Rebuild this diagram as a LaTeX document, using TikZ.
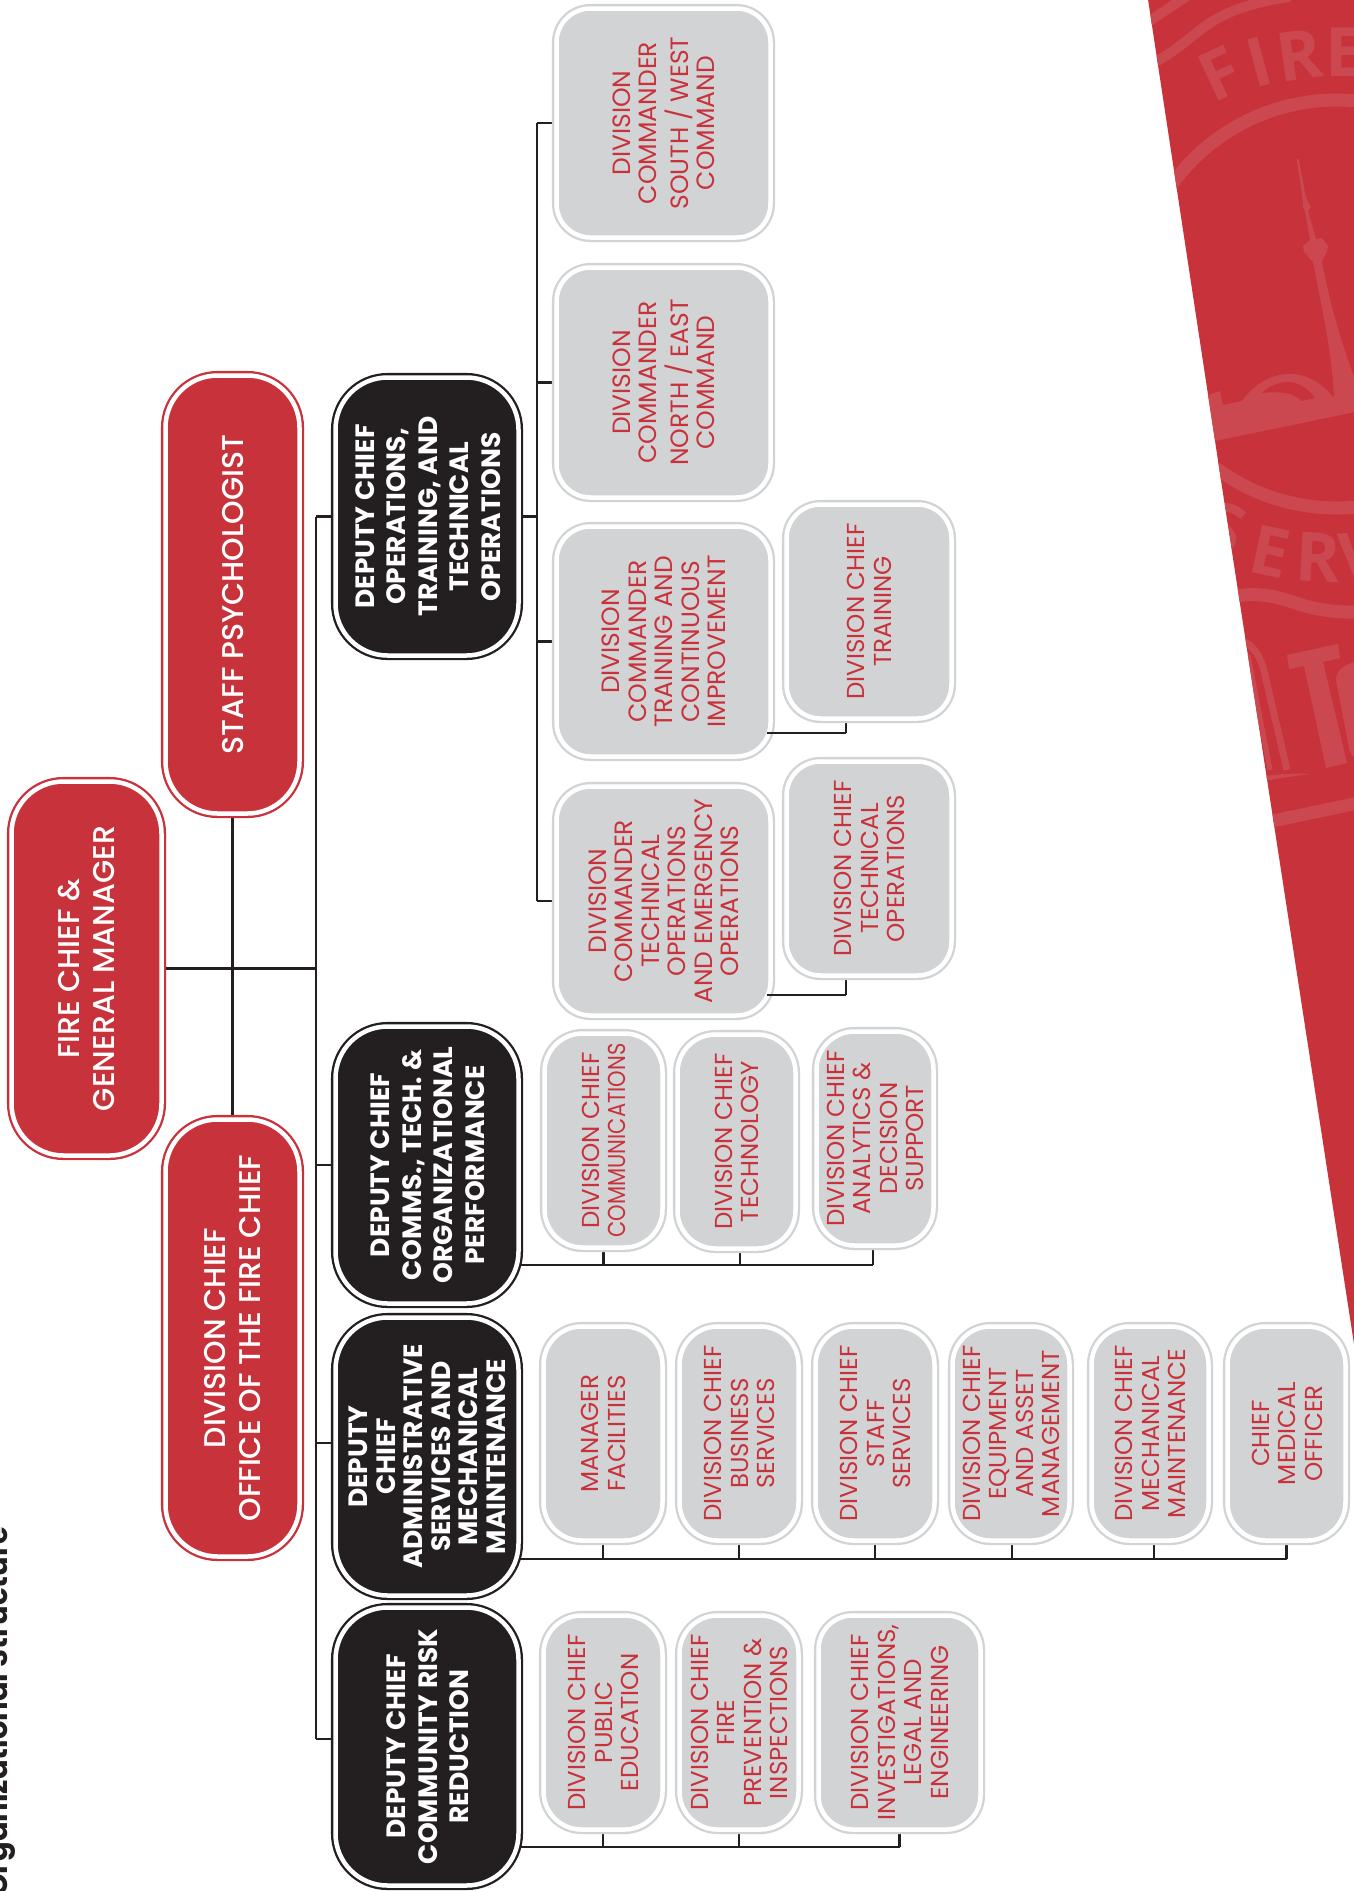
\documentclass[tikz,border=0pt]{standalone}
\usepackage{fontspec}
\setmainfont{Poppins}
\newfontfamily\wmfont{Open Sans}
\newfontfamily\pmed{Poppins Medium}
\definecolor{fdred}{HTML}{C8323B}
\definecolor{wmred}{HTML}{CC4850}
\definecolor{fdgray}{HTML}{D1D3D4}
\definecolor{fdink}{HTML}{231F20}
\pgfdeclarelayer{bg}\pgfsetlayers{bg,main}
\newcommand{\rt}[1]{\rotatebox{90}{\raisebox{0pt}[\dimexpr\height+7.5pt\relax]{\begin{tabular}{@{}c@{}}#1\end{tabular}}}}
% \bx{style}{name}{x0}{y0}{x1}{y1}{text}: outer edges of the ring
\newcommand{\bx}[7]{\node[#1,minimum width={#5-#3-9},minimum height={#6-#4-9}] (#2) at ({(#3+#5)/2},{(#4+#6)/2}) {\rt{#7}};}
\tikzset{
  x=1pt,y=-1pt,
  ringed/.style={rectangle,inner sep=0pt,outer sep=0pt,double=white,double distance=4.5pt,line width=2.3pt},
  redbox/.style={ringed,draw=fdred,fill=fdred,text=white,rounded corners=52pt,font=\fontsize{30}{35}\selectfont\pmed},
  blackbox/.style={ringed,draw=fdink,fill=fdink,text=white,rounded corners=52pt,font=\fontsize{26.5}{31.5}\selectfont\bfseries},
  tightblack/.style={blackbox,font=\fontsize{26.5}{27.5}\selectfont\bfseries},
  cmdbox/.style={ringed,draw=fdgray,fill=fdgray,text=fdred,rounded corners=34pt,font=\fontsize{25}{26.5}\selectfont},
  dcbox/.style={ringed,draw=fdgray,fill=fdgray,text=fdred,rounded corners=38pt,font=\fontsize{24.5}{26.5}\selectfont},
  dcwide/.style={dcbox,rounded corners=34pt},
  conn/.style={draw=fdink,line width=2.5pt,line cap=butt,line join=miter},
  wmline/.style={draw=wmred,line width=13pt},
  wmletter/.style={text=wmred,inner sep=0pt,font=\fontsize{68}{68}\selectfont\wmfont\bfseries},
  titletext/.style={text=fdink,inner sep=0pt,rotate=90,anchor=base west,font=\fontsize{29}{29}\selectfont\bfseries}
}
\begin{document}
\begin{tikzpicture}
\useasboundingbox (0,0) rectangle (1354,1891);
% title
\node[titletext] (title) at (7,1897) {Organizational Structure};
% top row
\bx{redbox}{fire}{7}{777}{166}{1160}{FIRE CHIEF \&\\GENERAL MANAGER}
\bx{redbox}{staff}{161}{371}{304}{818}{STAFF PSYCHOLOGIST}
\bx{redbox}{office}{161}{1115}{304}{1561}{DIVISION CHIEF\\OFFICE OF THE FIRE CHIEF}
% deputies
\bx{blackbox}{ops}{331}{373}{523}{660}{DEPUTY CHIEF\\OPERATIONS,\\TRAINING, AND\\TECHNICAL\\OPERATIONS}
\bx{blackbox}{comms}{331}{1022}{523}{1308}{DEPUTY CHIEF\\COMMS., TECH. \&\\ORGANIZATIONAL\\PERFORMANCE}
\bx{tightblack}{admin}{331}{1313}{523}{1600}{DEPUTY\\CHIEF\\ADMINISTRATIVE\\SERVICES AND\\MECHANICAL\\MAINTENANCE}
\bx{blackbox}{risk}{331}{1603}{523}{1890}{DEPUTY CHIEF\\COMMUNITY RISK\\REDUCTION}
% commanders
\bx{cmdbox}{south}{552}{4}{775}{242}{DIVISION\\COMMANDER\\SOUTH / WEST\\COMMAND}
\bx{cmdbox}{north}{552}{263}{775}{502}{DIVISION\\COMMANDER\\NORTH / EAST\\COMMAND}
\bx{cmdbox}{train}{552}{522}{775}{761}{DIVISION\\COMMANDER\\TRAINING AND\\CONTINUOUS\\IMPROVEMENT}
\bx{cmdbox}{tech}{552}{782}{775}{1020}{DIVISION\\COMMANDER\\TECHNICAL\\OPERATIONS\\AND EMERGENCY\\OPERATIONS}
\bx{dcwide}{dctrain}{782}{500}{956}{723}{DIVISION CHIEF\\TRAINING}
\bx{dcwide}{dctech}{782}{757}{956}{980}{DIVISION CHIEF\\TECHNICAL\\OPERATIONS}
% comms children
\bx{dcbox}{commun}{540}{1029}{667}{1252}{DIVISION CHIEF\\\scalebox{0.86}[1]{COMMUNICATIONS}}
\bx{dcbox}{techno}{673}{1030}{800}{1253}{DIVISION CHIEF\\TECHNOLOGY}
\bx{dcbox}{analyt}{812}{1027}{938}{1250}{DIVISION CHIEF\\ANALYTICS \&\\DECISION\\SUPPORT}
% admin children
\bx{dcbox}{facil}{539}{1322}{667}{1545}{MANAGER\\FACILITIES}
\bx{dcbox}{busin}{675}{1322}{803}{1545}{DIVISION CHIEF\\BUSINESS\\SERVICES}
\bx{dcbox}{stserv}{811}{1322}{939}{1545}{DIVISION CHIEF\\STAFF\\SERVICES}
\bx{dcbox}{equip}{948}{1322}{1074}{1545}{DIVISION CHIEF\\EQUIPMENT\\AND ASSET\\MANAGEMENT}
\bx{dcbox}{mech}{1087}{1322}{1213}{1545}{DIVISION CHIEF\\MECHANICAL\\MAINTENANCE}
\bx{dcbox}{cmo}{1223}{1322}{1350}{1545}{CHIEF\\MEDICAL\\OFFICER}
% risk children
\bx{dcbox}{pubed}{539}{1611}{667}{1834}{DIVISION CHIEF\\PUBLIC\\EDUCATION}
\bx{dcbox}{prev}{675}{1611}{803}{1834}{DIVISION CHIEF\\FIRE\\PREVENTION \&\\INSPECTIONS}
\bx{dcwide}{invest}{814}{1611}{985}{1834}{DIVISION CHIEF\\INVESTIGATIONS,\\LEGAL AND\\ENGINEERING}
% connector helpers
\coordinate (trunk) at (316,0);
\coordinate (adminy) at (0,1443);
\coordinate (risky) at (0,1739);
\coordinate (cmdbar) at (537,0);
\coordinate (dcstub) at (846,0);
\coordinate (tbus) at (0,995);
\coordinate (trbus) at (0,733);
\coordinate (cbus) at (0,1265);
\coordinate (abus) at (0,1559);
\coordinate (rbus) at (0,1847);
% overlapping stubs from commanders to their division chiefs
\draw[conn] ([xshift=-4pt]tbus -| tech.east) -- (tbus -| dcstub);
\draw[conn] ([xshift=-4pt]trbus -| train.east) -- (trbus -| dcstub);
\begin{pgfonlayer}{bg}
% background band
\fill[fdred] (1147.8,-2) -- (1224,500) -- (1301,1000) -- (1356,1357) -- (1356,-2) -- cycle;
\begin{scope}
\clip (1147.8,-2) -- (1224,500) -- (1301,1000) -- (1356,1357) -- (1356,-2) -- cycle;
\draw[wmline] (1337,304) circle[radius=204];
\draw[wmred,line width=10pt] (1155,62) .. controls (1175,52) and (1195,33) .. (1207,25) .. controls (1222,14) and (1250,2) .. (1290,-3);
\draw[wmred,line width=10pt] (1148,22) .. controls (1160,14) and (1175,4) .. (1190,-6);
\draw[wmline] (1230,597) .. controls (1265,590) and (1285,600) .. (1305,606) .. controls (1320,610) and (1340,613) .. (1360,612);
\node[wmletter,rotate=25] (wmf) at (1220,74) {F};
\node[wmletter,rotate=15] (wmi) at (1259,62) {I};
\node[wmletter,rotate=8] (wmr) at (1299,55) {R};
\node[wmletter,rotate=0] (wme) at (1345,52) {E};
\node[wmletter,rotate=-20] (wms) at (1224,528) {S};
\node[wmletter,rotate=-12] (wme2) at (1270,552) {E};
\node[wmletter,rotate=-3] (wmr2) at (1318,557) {R};
\node[wmletter,rotate=3] (wmv) at (1360,557) {V};
% ground and dome
\fill[wmred] (1205,396) -- (1220,391) -- (1223,405) -- (1242,401) .. controls (1255,383) and (1272,374) .. (1290,374) .. controls (1308,374) and (1323,384) .. (1333,397) -- (1360,392) -- (1360,411) -- (1210,442) -- cycle;
\fill[fdred] (1262,393) .. controls (1270,385) and (1280,382) .. (1288,382) .. controls (1298,382) and (1308,388) .. (1315,398) -- (1302,401) .. controls (1295,394) and (1285,391) .. (1262,393) -- cycle;
% tower
\fill[wmred] (1296.5,159) -- (1298.5,159) -- (1304,187) -- (1305,194) -- (1308,202) -- (1311,207) -- (1308,211) -- (1316,239) -- (1322,238) -- (1328,246) -- (1327,252) -- (1323,259) -- (1322,262) .. controls (1330,305) and (1342,345) .. (1356,382) -- (1356,400) -- (1334,397) .. controls (1332,350) and (1320,300) .. (1313,261) -- (1310,259) -- (1304,252) -- (1303,246) -- (1310,240) -- (1305,211) -- (1303,207) -- (1303,203) -- (1301,187) -- cycle;
% T of the wordmark and neighbours
\fill[wmred] (1287,655) -- (1338,644) -- (1340,658) -- (1323,662) -- (1347,763) -- (1326,768) -- (1304,666) -- (1289,669) -- cycle;
\fill[wmred] (1356,662) .. controls (1345,664) and (1336,670) .. (1336,680) -- (1349,748) .. controls (1351,755) and (1353,757) .. (1356,758) -- cycle;
\draw[wmred,line width=7pt] (1240,640) .. controls (1255,645) and (1262,660) .. (1265,675) -- (1287,770);
\draw[wmred,line width=5pt] (1248,655) -- (1270,770);
\fill[wmred] (1265,776) .. controls (1280,774) and (1295,773) .. (1310,774) .. controls (1295,776) and (1280,778) .. (1265,781) -- cycle;
\fill[wmred] (1270,815) -- (1356,797) -- (1356,810) -- (1270,828) -- cycle;
\end{scope}
% trunk
\draw[conn] (fire.east) -- (fire.east -| trunk);
\draw[conn] (staff.south) -- (office.north);
\draw[conn] (ops.west -| trunk) -- (risky -| trunk);
\draw[conn] (ops.west) -- (ops.west -| trunk);
\draw[conn] (comms.west) -- (comms.west -| trunk);
\draw[conn] (adminy -| admin.west) -- (adminy -| trunk);
\draw[conn] (risky -| risk.west) -- (risky -| trunk);
% operations
\draw[conn] (ops.east) -- (ops.east -| cmdbar);
\draw[conn] (south.west -| cmdbar) -- (tech.west -| cmdbar);
\foreach \n in {south,north,train,tech}{\draw[conn] (\n.west) -- (\n.west -| cmdbar);}
\draw[conn] (tbus -| dcstub) -- (dctech.south -| dcstub);
\draw[conn] (trbus -| dcstub) -- (dctrain.south -| dcstub);
% comms
\draw[conn] (cbus -| comms.east) -- ([xshift=-2pt]cbus -| analyt.south);
\foreach \n/\d in {commun/0,techno/3.5,analyt/-2}{\draw[conn] ([xshift=\d pt]\n.south) -- ([xshift=\d pt]cbus -| \n.south);}
% admin
\draw[conn] (abus -| admin.east) -- (abus -| cmo.south);
\foreach \n/\d in {facil/0,busin/0,stserv/0,equip/1,mech/4,cmo/0}{\draw[conn] ([xshift=\d pt]\n.south) -- ([xshift=\d pt]abus -| \n.south);}
% risk
\draw[conn] (rbus -| risk.east) -- (rbus -| invest.south);
\foreach \n in {pubed,prev,invest}{\draw[conn] (\n.south) -- (rbus -| \n.south);}
\end{pgfonlayer}
\end{tikzpicture}
\end{document}
